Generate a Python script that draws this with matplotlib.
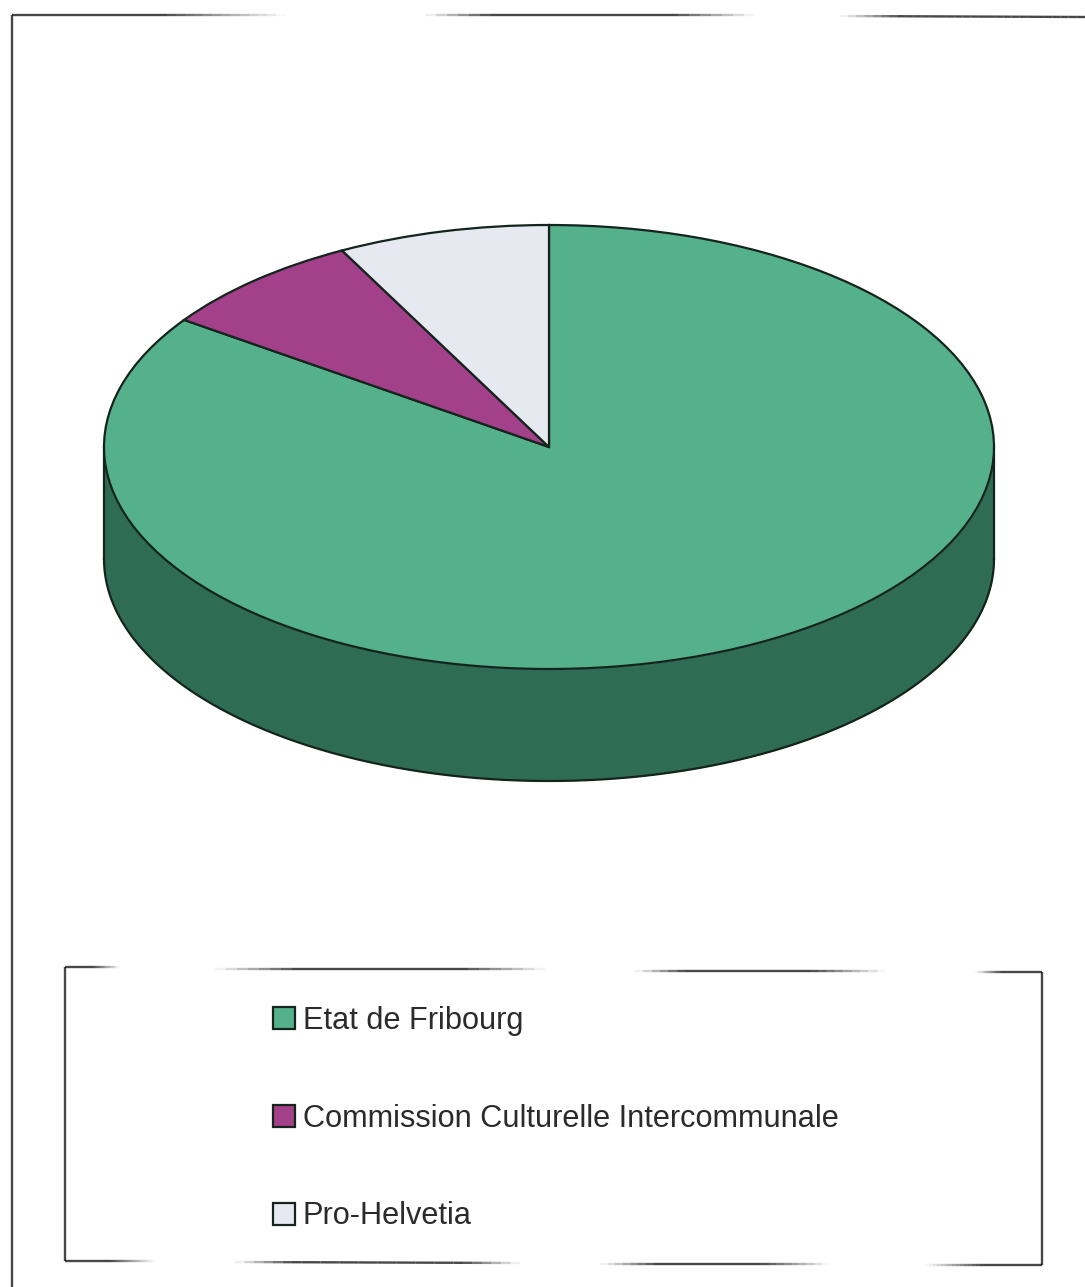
import numpy as np
import matplotlib
matplotlib.use('Agg')
import matplotlib.pyplot as plt

labels = ['Etat de Fribourg', 'Commission Culturelle Intercommunale', 'Pro-Helvetia']
shares = [84.7, 7.6, 7.7]
colours = ['#55B18C', '#A2408A', '#E7E9F1']
side_colour = '#2F6C55'
edge = '#14241c'

W, H = 1085, 1287
# pie geometry, in pixels of the page
cx, cy, rx, ry, depth = 549, 447, 445, 222, 112

plt.rcParams['font.family'] = ['Liberation Sans', 'DejaVu Sans']

fig = plt.figure(figsize=(W / 100, H / 100), dpi=100, facecolor='white')

# page layer, used for the scanned frame lines
page = fig.add_axes([0, 0, 1, 1])
page.set_xlim(0, W)
page.set_ylim(H, 0)
page.axis('off')


def scan_line(x0, y0, x1, y1, fade_in=0, fade_out=0, lw=1.7):
    # the photocopy loses the line towards its ends
    n = 30
    xs = np.linspace(x0, x1, n + 1)
    ys = np.linspace(y0, y1, n + 1)
    for i in range(n):
        t = (i + 0.5) / n
        a = 0.8
        if fade_in and t < fade_in:
            a *= t / fade_in
        if fade_out and t > 1 - fade_out:
            a *= (1 - t) / fade_out
        page.plot(xs[i:i + 2], ys[i:i + 2], color='#1a1a1a', lw=lw, alpha=a,
                  solid_capstyle='butt')


# outer frame
scan_line(12, 15, 12, 1287)
scan_line(12, 15, 285, 15, fade_out=0.45)
scan_line(425, 15, 755, 15, fade_in=0.2, fade_out=0.25)
scan_line(840, 16, 1085, 17, fade_in=0.25)

# legend frame
scan_line(65, 967, 65, 1261)
scan_line(65, 967, 120, 967, fade_out=0.5)
scan_line(215, 969, 545, 969, fade_in=0.25, fade_out=0.25)
scan_line(635, 971, 885, 971, fade_in=0.2, fade_out=0.3)
scan_line(975, 972, 1042, 972, fade_in=0.4)
scan_line(1042, 972, 1042, 1265)
scan_line(65, 1261, 155, 1261, fade_out=0.5)
scan_line(235, 1262, 520, 1263, fade_in=0.2, fade_out=0.2)
scan_line(600, 1264, 830, 1264, fade_in=0.25, fade_out=0.3)
scan_line(925, 1265, 1042, 1265, fade_in=0.5)

# pie layer: x and y run in units of the radius
extra = depth / ry
ax = fig.add_axes([(cx - rx) / W, 1 - (cy + ry + depth) / H, 2 * rx / W, (2 * ry + depth) / H])
ax.patch.set_alpha(0)
wedges, _ = ax.pie(shares, colors=colours, startangle=90, counterclock=False,
                   radius=1, wedgeprops=dict(edgecolor=edge, linewidth=1.6), frame=False)
ax.set_aspect('auto')
ax.set_xlim(-1, 1)
ax.set_ylim(-1 - extra, 1)
ax.axis('off')

# rim of the disc, only the green slice shows at the front
theta = np.linspace(np.pi, 2 * np.pi, 400)
rim_x = np.cos(theta)
rim_y = np.sin(theta)
ax.fill_between(rim_x, rim_y - extra, rim_y, color=side_colour, lw=0, zorder=0.5)
ax.plot(rim_x, rim_y - extra, color=edge, lw=1.6, zorder=0.6, clip_on=False)
ax.plot([-1, -1], [0, -extra], color=edge, lw=1.6, zorder=0.6, clip_on=False)
ax.plot([1, 1], [0, -extra], color=edge, lw=1.6, zorder=0.6, clip_on=False)

leg = fig.legend(wedges, labels, loc='upper left',
                 bbox_to_anchor=(273 / W, 1 - 1006 / H), frameon=False,
                 fontsize=22.15, labelcolor='#2b2b2b', borderpad=0, borderaxespad=0,
                 handlelength=0.72, handleheight=0.72, handletextpad=0.24,
                 labelspacing=2.2)

fig.savefig('out.png', dpi=100, facecolor='white')
